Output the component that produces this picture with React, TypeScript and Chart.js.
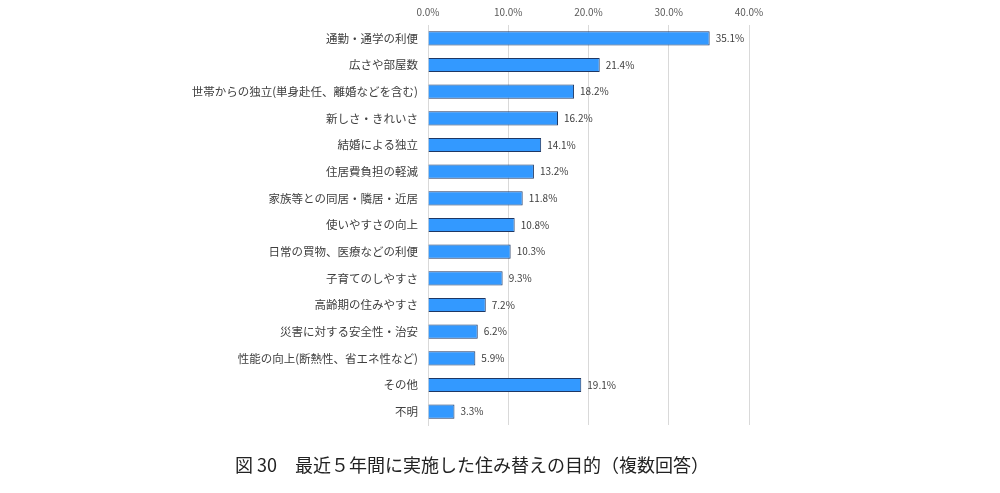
import React, { useEffect, useRef } from "react";
import { Chart, registerables } from "chart.js";

Chart.register(...registerables);

const categories = [
  "通勤・通学の利便",
  "広さや部屋数",
  "世帯からの独立(単身赴任、離婚などを含む)",
  "新しさ・きれいさ",
  "結婚による独立",
  "住居費負担の軽減",
  "家族等との同居・隣居・近居",
  "使いやすさの向上",
  "日常の買物、医療などの利便",
  "子育てのしやすさ",
  "高齢期の住みやすさ",
  "災害に対する安全性・治安",
  "性能の向上(断熱性、省エネ性など)",
  "その他",
  "不明",
];
const values = [35.1, 21.4, 18.2, 16.2, 14.1, 13.2, 11.8, 10.8, 10.3, 9.3, 7.2, 6.2, 5.9, 19.1, 3.3];
const xTicks = [0, 10, 20, 30, 40];
const titleText = "図 30　最近５年間に実施した住み替えの目的（複数回答）";

const FONT = "'Noto Sans CJK JP', 'Noto Sans', sans-serif";

const labelPlugin = {
  id: "barLabels",
  afterDatasetsDraw(chart: any) {
    const ctx = chart.ctx;
    const meta = chart.getDatasetMeta(0);
    ctx.save();
    ctx.font = `10px ${FONT}`;
    ctx.fillStyle = "#404040";
    ctx.textAlign = "left";
    ctx.textBaseline = "middle";
    meta.data.forEach((bar: any, i: number) => {
      ctx.fillText(values[i].toFixed(1) + "%", bar.x + 6, bar.y);
    });
    ctx.restore();
  },
};

const titlePlugin = {
  id: "bottomTitle",
  afterDraw(chart: any) {
    const ctx = chart.ctx;
    ctx.save();
    ctx.font = `18px ${FONT}`;
    ctx.fillStyle = "#222222";
    ctx.textAlign = "center";
    ctx.textBaseline = "middle";
    ctx.fillText(titleText, 472, 465);
    ctx.restore();
  },
};

export default function App() {
  const ref = useRef<HTMLCanvasElement | null>(null);
  useEffect(() => {
    document.body.style.margin = "0";
    if (!ref.current) return;
    const chart = new Chart(ref.current, {
      type: "bar",
      data: {
        labels: categories,
        datasets: [
          {
            data: values,
            backgroundColor: "#3399ff",
            borderColor: "#1f3864",
            borderWidth: 1,
            barPercentage: 0.53,
            categoryPercentage: 1,
          },
        ],
      },
      options: {
        indexAxis: "y",
        animation: false,
        responsive: false,
        maintainAspectRatio: false,
        layout: { padding: { left: 0, right: 251, top: 6, bottom: 68 } },
        plugins: {
          legend: { display: false },
          tooltip: { enabled: false },
          title: { display: false },
        },
        scales: {
          x: {
            position: "top",
            min: 0,
            max: 40,
            afterBuildTicks(scale: any) {
              scale.ticks = xTicks.map((v) => ({ value: v }));
            },
            afterFit(scale: any) {
              scale.height = 19;
              scale.paddingLeft = 0;
              scale.paddingRight = 0;
            },
            ticks: {
              font: { family: FONT, size: 10 },
              color: "#595959",
              padding: 7,
              callback: (v: any) => Number(v).toFixed(1) + "%",
            },
            grid: { color: "#d9d9d9", drawTicks: false, lineWidth: 1 },
            border: { display: false },
          },
          y: {
            afterFit(scale: any) {
              scale.width = 428;
              scale.paddingTop = 0;
              scale.paddingBottom = 0;
            },
            ticks: {
              font: { family: FONT, size: 11.5 },
              color: "#404040",
              padding: 10,
            },
            grid: { display: false, drawTicks: false },
            border: { display: true, color: "#d9d9d9" },
          },
        },
      },
      plugins: [labelPlugin, titlePlugin],
    });
    return () => chart.destroy();
  }, []);
  return (
    <div style={{ width: 1000, height: 493, background: "#fff" }}>
      <canvas ref={ref} width={1000} height={493} style={{ display: "block" }} />
    </div>
  );
}
